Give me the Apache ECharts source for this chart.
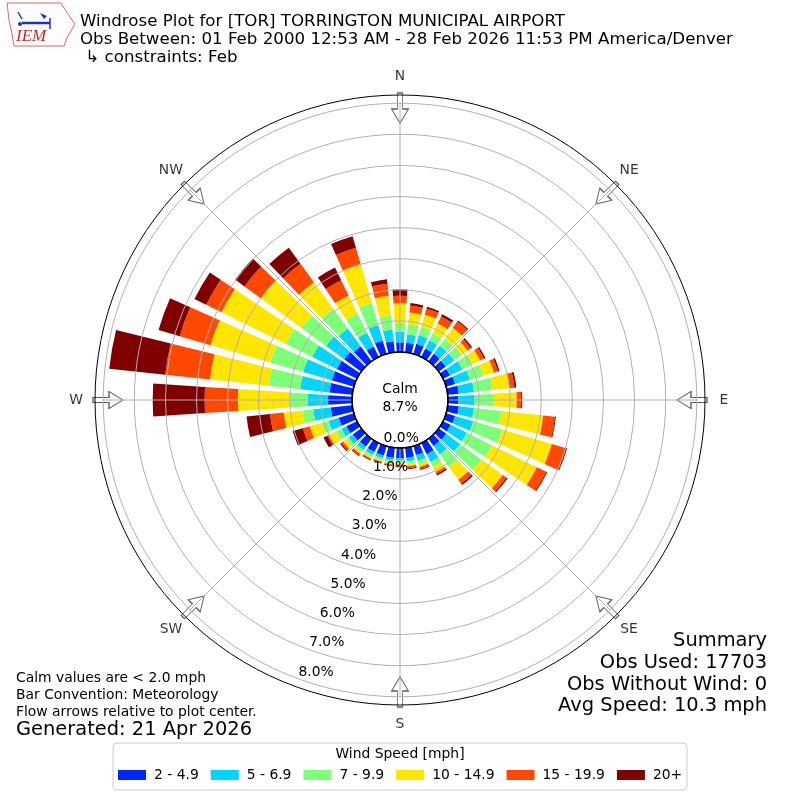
<!DOCTYPE html>
<html>
<head>
<meta charset="utf-8">
<script src="https://cdn.jsdelivr.net/npm/echarts@6/dist/echarts.min.js"></script>
<style>html,body{margin:0;padding:0;background:#fff}#chart{width:800px;height:800px}</style>
</head>
<body>
<div id="chart"></div>
<script>
// ---- data (percent of observations), directions clockwise from North ----
const directions = [0,10,20,30,40,50,60,70,80,90,100,110,120,130,140,150,160,170,180,190,200,210,220,230,240,250,260,270,280,290,300,310,320,330,340,350];
const speedBins = ['2 - 4.9','5 - 6.9','7 - 9.9','10 - 14.9','15 - 19.9','20+'];
const binColors = ['#0026ff','#00d4ff','#7dff7a','#ffe600','#ff4800','#800000'];
const speed2to5   = [0.31,0.31,0.34,0.30,0.30,0.28,0.25,0.30,0.36,0.33,0.36,0.30,0.27,0.30,0.29,0.40,0.30,0.33,0.33,0.33,0.32,0.32,0.32,0.34,0.38,0.51,0.70,0.77,0.74,0.74,0.72,0.68,0.60,0.38,0.45,0.36];
const speed5to7   = [0.35,0.27,0.29,0.30,0.32,0.34,0.44,0.50,0.49,0.53,0.49,0.61,0.58,0.55,0.34,0.28,0.20,0.12,0.08,0.09,0.10,0.11,0.13,0.16,0.18,0.34,0.56,0.65,0.94,0.96,0.88,0.72,0.70,0.49,0.52,0.38];
const speed7to10  = [0.27,0.33,0.28,0.25,0.28,0.30,0.37,0.45,0.60,0.60,0.88,0.97,0.90,0.85,0.50,0.17,0.10,0.07,0.06,0.06,0.06,0.07,0.08,0.10,0.19,0.23,0.36,0.58,1.02,1.10,0.95,0.98,0.80,0.69,0.74,0.44];
const speed10to15 = [0.64,0.38,0.40,0.35,0.43,0.23,0.27,0.35,0.55,0.75,1.36,1.66,1.61,0.85,0.50,0.19,0.10,0.08,0.07,0.06,0.05,0.06,0.08,0.12,0.25,0.40,0.60,1.67,1.90,2.00,2.30,1.62,1.05,0.64,1.29,0.65];
const speed15to20 = [0.24,0.22,0.21,0.25,0.25,0.13,0.14,0.14,0.16,0.15,0.38,0.48,0.34,0.15,0.16,0.07,0.07,0.07,0.05,0.04,0.03,0.04,0.06,0.08,0.06,0.23,0.44,1.07,1.45,1.03,0.55,0.65,0.73,0.55,0.55,0.39];
const speed20plus = [0.21,0.08,0.06,0.08,0.04,0.05,0.05,0.05,0.06,0.03,0.03,0.03,0.03,0.04,0.05,0.05,0.03,0.03,0.03,0.02,0.02,0.02,0.03,0.04,0.14,0.34,0.76,1.67,1.81,0.71,0.42,0.37,0.64,0.45,0.39,0.14];
const calmPercent = 8.7;
const compassNames = ['N','NE','E','SE','S','SW','W','NW'];
const compassAngles = [0,45,90,135,180,225,270,315];
const radialTicks = [0,1,2,3,4,5,6,7,8];
const summaryLines = ['Summary','Obs Used: 17703','Obs Without Wind: 0','Avg Speed: 10.3 mph'];

// ---- layout ----
const FONT = '"DejaVu Sans", sans-serif';
const SMALL = 13.89, LARGE = 19.44, TITLE = 16.67;
const R_IN = 48, UNIT = 31.1, R_OUT = 305, R_LBL = 340;
const RMAX = (R_OUT - R_IN) / UNIT;
const RMAX_LBL = (R_LBL - R_IN) / UNIT;
const GRID_MAX = radialTicks[radialTicks.length - 1];
const ARROW_R = (292 - R_IN) / UNIT;
const LABEL_R = (324 - R_IN) / UNIT;
const center = ['50%', '50%'];
const binData = [speed2to5, speed5to7, speed7to10, speed10to15, speed15to20, speed20plus];

const chart = echarts.init(document.getElementById('chart'), null, {renderer: 'canvas'});

const barSeries = speedBins.map((name, i) => ({
  type: 'bar', name, coordinateSystem: 'polar', polarIndex: 0, stack: 'rose',
  data: binData[i], barCategoryGap: '23%', itemStyle: {color: binColors[i]},
  silent: true, z: 2
}));

const arrowPath = 'path://M6,0L11,0L11,16L17,16L8.5,30L0,16L6,16Z';
const hiddenAxis = {axisLine: {show: false}, axisTick: {show: false}, axisLabel: {show: false}, splitLine: {show: false}};

const option = {
  animation: false,
  textStyle: {fontFamily: FONT},
  polar: [
    {center, radius: [R_IN, R_OUT]},                      // 0 bars
    {center, radius: [R_IN, R_IN + GRID_MAX * UNIT]},     // 1 grid
    {center, radius: [R_IN, R_OUT]},                      // 2 outer ring + arrows
    {center, radius: [R_IN, R_OUT]},                      // 3 radial tick labels
    {center, radius: [R_IN, R_LBL]},                      // 4 compass labels
    {center, radius: [0, R_IN]}                           // 5 calm circle
  ],
  angleAxis: [
    Object.assign({polarIndex: 0, type: 'category', data: directions.map(String), startAngle: 95, clockwise: true, boundaryGap: true}, hiddenAxis),
    {polarIndex: 1, type: 'value', min: 0, max: 360, interval: 45, startAngle: 90, clockwise: true,
     axisLine: {show: false}, axisTick: {show: false}, axisLabel: {show: false},
     splitLine: {show: true, lineStyle: {color: '#b0b0b0', width: 1}}, z: 10},
    {polarIndex: 2, type: 'value', min: 0, max: 360, startAngle: 90, clockwise: true,
     axisLine: {show: true, lineStyle: {color: '#000', width: 1}}, axisTick: {show: false}, axisLabel: {show: false},
     splitLine: {show: false}, z: 11},
    Object.assign({polarIndex: 3, type: 'value', min: 0, max: 360, startAngle: 250, clockwise: true}, hiddenAxis),
    Object.assign({polarIndex: 4, type: 'value', min: 0, max: 360, startAngle: 90, clockwise: true}, hiddenAxis),
    {polarIndex: 5, type: 'value', min: 0, max: 360, startAngle: 90, clockwise: true,
     axisLine: {show: true, lineStyle: {color: '#000', width: 1.6}}, axisTick: {show: false}, axisLabel: {show: false},
     splitLine: {show: false}, z: 11}
  ],
  radiusAxis: [
    Object.assign({polarIndex: 0, type: 'value', min: 0, max: RMAX}, hiddenAxis),
    {polarIndex: 1, type: 'value', min: 0, max: GRID_MAX, interval: 1, axisLine: {show: false}, axisTick: {show: false}, axisLabel: {show: false},
     splitLine: {show: true, lineStyle: {color: '#b0b0b0', width: 1}}, z: 10},
    Object.assign({polarIndex: 2, type: 'value', min: 0, max: RMAX}, hiddenAxis),
    {polarIndex: 3, type: 'value', min: 0, max: RMAX, interval: 1, axisLine: {show: false}, axisTick: {show: false}, splitLine: {show: false},
     axisLabel: {show: true, margin: 0, align: 'left', verticalAlign: 'bottom', color: '#000', fontSize: SMALL, fontFamily: FONT,
       formatter: v => (radialTicks.indexOf(Math.round(v)) >= 0 && Math.abs(v - Math.round(v)) < 1e-6) ? v.toFixed(1) + '%' : ''},
     z: 12},
    Object.assign({polarIndex: 4, type: 'value', min: 0, max: RMAX_LBL}, hiddenAxis),
    Object.assign({polarIndex: 5, type: 'value', min: 0, max: 1}, hiddenAxis)
  ],
  legend: {
    left: 118, top: 768, padding: 0, itemWidth: 28, itemHeight: 10, itemGap: 12, icon: 'rect', selectedMode: false,
    textStyle: {fontSize: SMALL, color: '#000', fontFamily: FONT, padding: [0, 0, 0, 3]},
    data: speedBins
  },
  series: barSeries.concat([
    {type: 'scatter', coordinateSystem: 'polar', polarIndex: 2, silent: true, z: 5,
     symbol: arrowPath, symbolSize: [17, 30],
     itemStyle: {color: '#fff', borderColor: '#333', borderWidth: 1},
     data: compassAngles.map(a => ({value: [ARROW_R, a], symbolRotate: -a}))},
    {type: 'scatter', coordinateSystem: 'polar', polarIndex: 4, silent: true, z: 12,
     symbol: 'circle', symbolSize: 2, itemStyle: {color: 'rgba(255,255,255,0)'},
     label: {show: true, position: 'inside', formatter: '{b}', color: '#000', fontSize: SMALL, fontFamily: FONT},
     labelLayout: {hideOverlap: false},
     data: compassNames.map((n, i) => ({name: n, value: [LABEL_R, compassAngles[i]]}))}
  ]),
  graphic: [
    // IEM logo (simplified)
    {type: 'group', z: 1, children: [
      {type: 'polyline', shape: {points: [[7,3],[61,3],[64,8],[70,17],[75,24],[71,31],[67,38],[64,46],[14,46],[12,34],[9,20],[7,3]]},
       style: {stroke: '#d66', fill: 'none', lineWidth: 1}},
      {type: 'line', shape: {x1: 22, y1: 23, x2: 50, y2: 23}, style: {stroke: '#1b2fd6', lineWidth: 2.5}},
      {type: 'line', shape: {x1: 18, y1: 12, x2: 22, y2: 19}, style: {stroke: '#1b2fd6', lineWidth: 1.5}},
      {type: 'line', shape: {x1: 50, y1: 18, x2: 50, y2: 29}, style: {stroke: '#1b2fd6', lineWidth: 1.5}},
      {type: 'polygon', shape: {points: [[40,13],[47,16],[44,19]]}, style: {fill: '#1b2fd6'}},
      {type: 'circle', shape: {cx: 20, cy: 24, r: 2}, style: {fill: '#1b2fd6'}},
      {type: 'text', x: 16, y: 28, style: {text: 'IEM', font: 'italic 17px "Liberation Serif", serif', fill: '#c62828'}}
    ]},
    {type: 'text', x: 80, y: 13, style: {
      text: 'Windrose Plot for [TOR] TORRINGTON MUNICIPAL AIRPORT\nObs Between: 01 Feb 2000 12:53 AM - 28 Feb 2026 11:53 PM America/Denver\n \u21b3 constraints: Feb',
      fontSize: TITLE, fontFamily: FONT, fill: '#000', lineHeight: 18, align: 'left', verticalAlign: 'top'}},
    {type: 'text', x: 400, y: 398, z: 20, style: {
      text: 'Calm\n' + calmPercent.toFixed(1) + '%', fontSize: SMALL, fontFamily: FONT, fill: '#000', lineHeight: 18, align: 'center', verticalAlign: 'middle'}},
    {type: 'text', x: 16, y: 670.5, style: {
      text: 'Calm values are < 2.0 mph\nBar Convention: Meteorology\nFlow arrows relative to plot center.',
      fontSize: SMALL, fontFamily: FONT, fill: '#000', lineHeight: 16.7, align: 'left', verticalAlign: 'top'}},
    {type: 'text', x: 16, y: 730, style: {
      text: 'Generated: 21 Apr 2026', fontSize: LARGE, fontFamily: FONT, fill: '#000', align: 'left', verticalAlign: 'middle'}},
    {type: 'text', x: 767, y: 630.5, style: {
      text: summaryLines.join('\n'), fontSize: LARGE, fontFamily: FONT, fill: '#000', lineHeight: 21.7, align: 'right', verticalAlign: 'top'}},
    {type: 'rect', z: -1, shape: {x: 113, y: 743, width: 574, height: 47, r: 4}, style: {fill: '#fff', stroke: '#cccccc', lineWidth: 1}},
    {type: 'text', x: 400, y: 754, style: {
      text: 'Wind Speed [mph]', fontSize: SMALL, fontFamily: FONT, fill: '#000', align: 'center', verticalAlign: 'middle'}}
  ]
};
chart.setOption(option);
</script>
</body>
</html>
